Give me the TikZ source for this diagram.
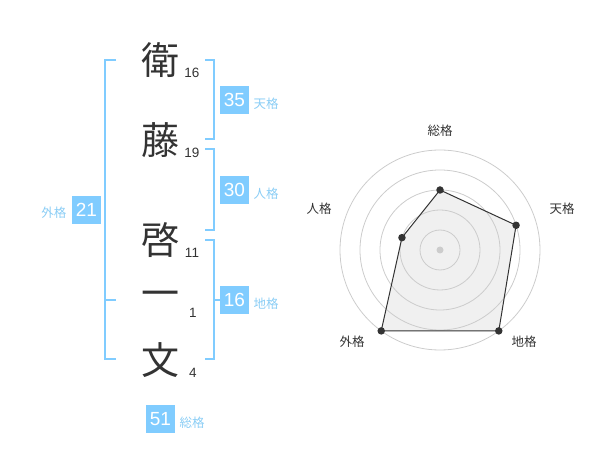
\documentclass[tikz,border=0pt]{standalone}
\usepackage{fontspec}
\usetikzlibrary{calc}
\setmainfont{Liberation Sans}
\newfontfamily\jp{Noto Sans CJK JP}
\definecolor{bracketc}{HTML}{80CCFF}
\definecolor{boxc}{HTML}{80CCFF}
\definecolor{labc}{HTML}{8ACDF5}
\definecolor{inkc}{HTML}{333333}
\definecolor{gridc}{HTML}{CCCCCC}
\definecolor{polyc}{HTML}{F0F0F0}
\tikzset{
  kanji/.style={font=\jp\fontsize{38}{38}\selectfont, text=inkc, inner sep=0pt},
  stroke/.style={font=\fontsize{13.5}{14}\selectfont, text=inkc, inner sep=0pt},
  valbox/.style={fill=boxc, text=white, font=\fontsize{19}{19}\selectfont, minimum width=29pt, minimum height=28pt, inner sep=0pt},
  kaku/.style={font=\jp\fontsize{12.5}{13}\selectfont, text=labc, inner sep=0pt},
  brk/.style={draw=bracketc, line width=2pt},
  radlab/.style={font=\jp\fontsize{12.5}{13}\selectfont, text=inkc, inner sep=0pt},
  ring/.style={draw=gridc, line width=0.8pt},
  dot/.style={circle, fill=inkc, inner sep=0pt, minimum size=7.5pt},
}
\begin{document}
\begin{tikzpicture}[x=1pt,y=-1pt]
\useasboundingbox (0,0) rectangle (600,470);
% kanji column
\node[kanji] (k1) at (160,60) {衛};
\node[kanji] (k2) at (160,140) {藤};
\node[kanji] (k3) at (160,240) {啓};
\node[kanji] (k4) at (160,299) {一};
\node[kanji] (k5) at (160,360) {文};
\node[stroke] (s1) at (192,73) {16};
\node[stroke] (s2) at (192,153) {19};
\node[stroke] (s3) at (192,253) {11};
\node[stroke] (s4) at (193,313) {1};
\node[stroke] (s5) at (193,373) {4};
% left bracket (外格)
\draw[brk] (116,60) -- (105,60) -- (105,359) -- (116,359);
\draw[brk] (105,300) -- (116,300);
\node[valbox] (b21) at (86.5,210) {21};
\node[kaku] (l21) at (54,213) {外格};
% right brackets
\draw[brk] (205,60) -- (214,60) -- (214,139) -- (205,139);
\node[valbox] (b35) at (234.5,100) {35};
\node[kaku] (l35) at (266,104) {天格};
\draw[brk] (205,149) -- (214,149) -- (214,230) -- (205,230);
\node[valbox] (b30) at (234.5,190) {30};
\node[kaku] (l30) at (266,194) {人格};
\draw[brk] (205,240) -- (214,240) -- (214,359) -- (205,359);
\draw[brk] (214,300) -- (220,300);
\node[valbox] (b16) at (234.5,300) {16};
\node[kaku] (l16) at (266,304) {地格};
\node[valbox] (b51) at (160.5,419) {51};
\node[kaku] (l51) at (192,423) {総格};
% radar chart
\coordinate (c) at (440,250);
\coordinate (pS) at ($(c)+(0,-60)$);
\coordinate (pT) at ($(c)+({80*cos(18)},{-80*sin(18)})$);
\coordinate (pC) at ($(c)+({100*cos(54)},{100*sin(54)})$);
\coordinate (pG) at ($(c)+({-100*cos(54)},{100*sin(54)})$);
\coordinate (pJ) at ($(c)+({-40*cos(18)},{-40*sin(18)})$);
\fill[polyc] (pS) -- (pT) -- (pC) -- (pG) -- (pJ) -- cycle;
\foreach \rr in {20,40,60,80,100} \draw[ring] (c) circle[radius=\rr pt];
\fill[gridc] (c) circle[radius=3.5pt];
\draw[draw=inkc, line width=1pt, line join=round] (pS) -- (pT) -- (pC) -- (pG) -- (pJ) -- cycle;
\foreach \p in {pS,pT,pC,pG,pJ} \node[dot] at (\p) {};
\node[radlab] (rS) at (440,130.5) {総格};
\node[radlab] (rT) at (562,209) {天格};
\node[radlab] (rJ) at (319,209) {人格};
\node[radlab] (rG) at (352,342) {外格};
\node[radlab] (rC) at (524,342) {地格};
\end{tikzpicture}
\end{document}
